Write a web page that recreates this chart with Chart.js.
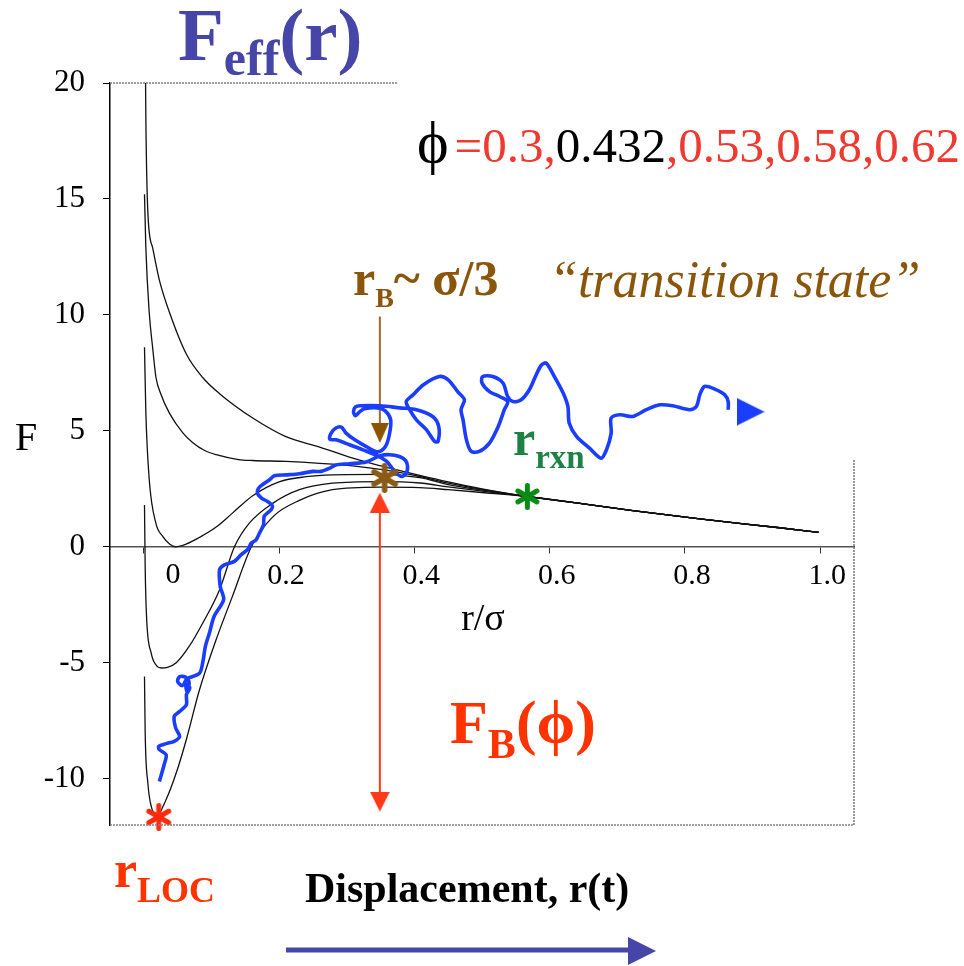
<!DOCTYPE html>
<html>
<head>
<meta charset="utf-8">
<script src="https://cdn.jsdelivr.net/npm/chart.js@4.4.0/dist/chart.umd.min.js"></script>
<style>
  html, body { margin: 0; background: #fff; }
</style>
</head>
<body>
<canvas id="chart" width="964" height="966"></canvas>
<script>
// volume fractions, one curve each (0.432 is the crossover, printed in black)
const phiValues = ['0.3', '0.432', '0.53', '0.58', '0.62'];
const phiHighlight = 1;

const xTicks = [0, 0.2, 0.4, 0.6, 0.8, 1.0];
const yTicks = [-10, -5, 0, 5, 10, 15, 20];

// F_eff(r) for each phi, r in units of sigma
const rPhi030 = [0.001, 0.003, 0.006, 0.013, 0.023, 0.038, 0.063, 0.087, 0.112, 0.161, 0.21, 0.26, 0.309, 0.349, 0.408, 0.45, 0.5];
const fPhi030 = [26, 18.5, 14.4, 12.9, 11.5, 10.1, 8.3, 7.3, 6.6, 5.55, 4.75, 4.3, 3.82, 3.5, 3.08, 2.8, 2.5];

const rPhi0432 = [0.001, 0.003, 0.008, 0.013, 0.018, 0.025, 0.038, 0.058, 0.072, 0.09, 0.107, 0.14, 0.161, 0.21, 0.26, 0.309, 0.358, 0.408, 0.45, 0.5];
const fPhi0432 = [15.2, 12.9, 10.1, 8.6, 7.3, 6.6, 5.75, 4.9, 4.5, 4.15, 3.97, 3.76, 3.72, 3.68, 3.6, 3.49, 3.3, 3.03, 2.74, 2.47];

const rPhi053 = [0.001, 0.003, 0.008, 0.018, 0.028, 0.038, 0.047, 0.063, 0.082, 0.107, 0.131, 0.161, 0.2, 0.24, 0.279, 0.348, 0.408, 0.45, 0.5];
const fPhi053 = [8.6, 5.8, 2.9, 1.0, 0.45, 0.12, 0.0, 0.12, 0.4, 0.85, 1.45, 2.2, 2.8, 3.02, 3.1, 3.12, 2.98, 2.68, 2.44];

const rPhi058 = [0.001, 0.002, 0.004, 0.011, 0.018, 0.026, 0.035, 0.048, 0.067, 0.087, 0.112, 0.134, 0.156, 0.191, 0.23, 0.279, 0.348, 0.408, 0.45, 0.5];
const fPhi058 = [1.8, -0.85, -3.0, -4.6, -5.1, -5.23, -5.2, -5.0, -4.3, -3.3, -1.85, 0.0, 1.02, 1.88, 2.46, 2.74, 2.81, 2.75, 2.58, 2.4];

const rPhi062 = [0.001, 0.002, 0.006, 0.011, 0.019, 0.033, 0.048, 0.063, 0.082, 0.107, 0.131, 0.159, 0.191, 0.23, 0.279, 0.348, 0.408, 0.45, 0.5];
const fPhi062 = [-5.6, -8.0, -10.2, -11.2, -11.6, -10.9, -9.75, -8.3, -6.2, -4.0, -2.14, 0.0, 1.3, 2.0, 2.46, 2.57, 2.55, 2.46, 2.34];

// all curves share the same long-range tail
const tailR = [0.566, 0.65, 0.723, 0.822, 0.94, 0.998];
const tailF = [2.17, 1.85, 1.56, 1.2, 0.82, 0.62];

// one particle trajectory: escapes the well, crosses the barrier and wanders off
const trajR = [0.023,0.030,0.033,0.023,0.022,0.033,0.045,0.053,0.047,0.045,
  0.053,0.063,0.063,0.068,0.062,0.064,0.067,0.062,0.053,0.050,
  0.057,0.064,0.082,0.087,0.091,0.097,0.104,0.118,0.113,0.112,
  0.119,0.134,0.144,0.154,0.159,0.166,0.171,0.177,0.178,0.188,
  0.190,0.183,0.174,0.168,0.171,0.186,0.193,0.211,0.230,0.250,
  0.262,0.275,0.284,0.304,0.329,0.349,0.363,0.378,0.387,0.390,
  0.388,0.381,0.373,0.367,0.359,0.346,0.324,0.304,0.284,0.275,
  0.277,0.284,0.292,0.299,0.312,0.329,0.346,0.357,0.363,0.365,
  0.357,0.346,0.326,0.319,0.313,0.310,0.313,0.320,0.349,0.378,
  0.403,0.427,0.436,0.435,0.430,0.418,0.403,0.393,0.388,0.398,
  0.413,0.437,0.450,0.464,0.474,0.469,0.472,0.477,0.484,0.496,
  0.511,0.524,0.533,0.538,0.526,0.511,0.500,0.501,0.516,0.531,
  0.538,0.546,0.558,0.570,0.580,0.588,0.595,0.607,0.620,0.627,
  0.629,0.640,0.659,0.676,0.684,0.691,0.691,0.704,0.723,0.743,
  0.763,0.782,0.807,0.817,0.822,0.829,0.844,0.859,0.864,0.864];
const trajF = [-10.12,-9.40,-8.97,-8.75,-8.61,-8.49,-8.39,-8.18,-7.81,-7.31,
  -7.10,-6.81,-6.38,-6.09,-5.91,-6.25,-5.86,-5.63,-5.60,-5.81,
  -5.99,-5.69,-5.47,-5.01,-4.30,-3.72,-3.00,-2.28,-1.71,-0.99,
  -0.78,-0.63,-0.34,-0.10,0.16,0.30,0.59,0.95,1.31,1.59,
  1.77,1.95,2.10,2.31,2.57,2.89,3.06,3.10,3.15,3.25,
  3.25,3.39,3.53,3.58,3.66,3.92,3.97,3.89,3.72,3.46,
  3.18,3.03,3.18,3.39,3.68,3.92,4.18,4.40,4.61,4.64,
  4.90,5.12,5.16,4.90,4.61,4.32,4.09,4.31,4.83,5.47,
  5.86,5.99,5.95,5.82,5.65,5.82,6.03,6.08,6.08,5.99,
  5.91,5.62,5.19,4.54,4.54,5.04,5.47,5.91,6.26,6.55,
  6.98,7.34,7.20,6.69,6.34,5.91,5.47,4.61,4.11,4.11,
  4.47,5.19,5.91,6.26,6.48,6.69,7.06,7.34,7.34,7.06,
  6.48,6.26,6.34,6.77,7.41,7.84,7.92,7.34,6.63,6.05,
  5.33,4.75,4.25,3.82,4.18,4.90,5.55,5.69,5.62,5.91,
  6.12,6.08,5.91,6.05,6.55,6.91,6.80,6.55,6.26,5.91];
const trajHead = [0.897, 5.82];

// marked points: localized minimum, barrier (transition state), reaction coordinate
const rLoc = [0.022, -11.65];
const rBarrier = [0.356, 2.97];
const rRxn = [0.567, 2.17];

// arrows at r_B: barrier height F_B and the pointer from the r_B label
const arrowR = 0.349;
const barrierArrowF = [1.5, -10.6];
const barrierHeadsF = [1.9, -10.99];
const pointerArrowF = [9.93, 5.3];
const pointerHeadF = 4.91;

const SERIF = '"Liberation Serif", "Times New Roman", serif';
const PHI = '\u03d5';
const RED = '#ff3300';
const PINK_RED = '#ee3a30';
const BROWN = '#8b560c';
const GREEN = '#1e8246';
const SLATE = '#4646a8';

const pts = (rs, fs) => rs.map((r, i) => ({ x: r, y: fs[i] }));

// six-armed asterisk used as a point style
function asterisk(color, size, width) {
  const c = document.createElement('canvas');
  c.width = c.height = size;
  const g = c.getContext('2d');
  g.strokeStyle = color;
  g.lineWidth = width;
  g.lineCap = 'round';
  const m = size / 2, len = size / 2 - width / 2;
  for (let k = 0; k < 3; k++) {
    const a = Math.PI / 2 + k * Math.PI / 3;
    g.beginPath();
    g.moveTo(m - Math.cos(a) * len, m - Math.sin(a) * len);
    g.lineTo(m + Math.cos(a) * len, m + Math.sin(a) * len);
    g.stroke();
  }
  return c;
}

// filled arrow head pointing down; rotate it with pointRotation
function arrowHead(color, w, h) {
  const c = document.createElement('canvas');
  c.width = w;
  c.height = h;
  const g = c.getContext('2d');
  g.fillStyle = color;
  g.beginPath();
  g.moveTo(0, 0);
  g.lineTo(w, 0);
  g.lineTo(w / 2, h);
  g.closePath();
  g.fill();
  return c;
}

const curveSets = [
  [rPhi030, fPhi030],
  [rPhi0432, fPhi0432],
  [rPhi053, fPhi053],
  [rPhi058, fPhi058],
  [rPhi062, fPhi062],
];

const curveDatasets = curveSets.map(([rs, fs], i) => ({
  label: 'phi = ' + phiValues[i],
  data: pts(rs.concat(tailR), fs.concat(tailF)),
  borderColor: '#111',
  borderWidth: 1.3,
  pointRadius: 0,
  cubicInterpolationMode: 'monotone',
  order: 10,
}));

const marker = (label, xy, style, rotation) => ({
  label,
  data: [{ x: xy[0], y: xy[1] }],
  showLine: false,
  pointRadius: 10,
  pointStyle: style,
  rotation: rotation || 0,
  clip: false,
  order: 0,
});

const datasets = [
  ...curveDatasets,
  {
    label: 'trajectory',
    data: pts(trajR, trajF),
    borderColor: '#1a3dff',
    borderWidth: 3.6,
    pointRadius: 0,
    tension: 0.3,
    order: 2,
  },
  marker('trajectory end', trajHead, arrowHead('#1a3dff', 28, 28), -90),
  {
    label: 'F_B',
    data: pts([arrowR, arrowR], barrierArrowF),
    borderColor: '#ff3a1a',
    borderWidth: 2,
    pointRadius: 0,
    order: 3,
  },
  marker('F_B top', [arrowR, barrierHeadsF[0]], arrowHead('#ff3a1a', 20, 20), 180),
  marker('F_B bottom', [arrowR, barrierHeadsF[1]], arrowHead('#ff3a1a', 20, 20), 0),
  {
    label: 'r_B pointer',
    data: pts([arrowR, arrowR], pointerArrowF),
    borderColor: '#a06a28',
    borderWidth: 2,
    pointRadius: 0,
    order: 3,
  },
  marker('r_B head', [arrowR, pointerHeadF], arrowHead('#8b5400', 18, 20), 0),
  marker('r_LOC', rLoc, asterisk('#ff2a10', 28, 5)),
  marker('r_B', rBarrier, asterisk('#8b5a14', 30, 5.5)),
  marker('r_rxn', rRxn, asterisk('#0a8a16', 27, 5)),
];

// draws a row of differently styled pieces, left to right, on one baseline
function runs(ctx, x, y, parts) {
  for (const p of parts) {
    ctx.font = p.font;
    ctx.fillStyle = p.color;
    ctx.fillText(p.text, x, y + (p.dy || 0));
    x += ctx.measureText(p.text).width + (p.gap || 0);
  }
}

function seg(ctx, x1, y1, x2, y2) {
  ctx.beginPath();
  ctx.moveTo(x1, y1);
  ctx.lineTo(x2, y2);
  ctx.stroke();
}

const annotations = {
  id: 'annotations',
  afterDraw(chart) {
    const { ctx, chartArea: a, scales: { x, y } } = chart;
    ctx.save();

    // the remaining pieces of the plot frame
    ctx.strokeStyle = '#808080';
    ctx.lineWidth = 1.6;
    ctx.setLineDash([2, 1]);
    seg(ctx, a.left, a.bottom, a.right, a.bottom);
    seg(ctx, a.left, a.top, x.getPixelForValue(0.375), a.top);
    seg(ctx, a.right, a.bottom, a.right, y.getPixelForValue(3.75));
    ctx.setLineDash([]);

    ctx.textAlign = 'left';
    ctx.textBaseline = 'alphabetic';

    // axis words
    ctx.font = `30px ${SERIF}`;
    ctx.fillStyle = '#000';
    ctx.textAlign = 'center';
    ctx.fillText('0', x.getPixelForValue(0.043), 583);
    ctx.font = `38px ${SERIF}`;
    ctx.fillText('r/\u03c3', 483, 630);
    ctx.textAlign = 'left';
    ctx.font = `40px ${SERIF}`;
    ctx.fillText('F', 15, 450);

    // title
    runs(ctx, 178, 60, [
      { text: 'F', font: `bold 75px ${SERIF}`, color: SLATE },
      { text: 'eff', font: `bold 50px ${SERIF}`, color: SLATE, dy: 15 },
      { text: '(r)', font: `bold 75px ${SERIF}`, color: SLATE },
    ]);

    // phi list
    const phiParts = [{ text: PHI, font: `60px ${SERIF}`, color: '#000', gap: 6 },
      { text: '=', font: `49px ${SERIF}`, color: PINK_RED }];
    phiValues.forEach((v, i) => {
      if (i > 0) phiParts.push({ text: ',', font: `49px ${SERIF}`, color: PINK_RED });
      phiParts.push({ text: v, font: `49px ${SERIF}`, color: i === phiHighlight ? '#000' : PINK_RED });
    });
    runs(ctx, 417, 162, phiParts);

    // transition state label
    runs(ctx, 353, 295, [
      { text: 'r', font: `bold 50px ${SERIF}`, color: BROWN },
      { text: 'B', font: `bold 28px ${SERIF}`, color: BROWN, dy: 12 },
      { text: '~ \u03c3/3', font: `bold 50px ${SERIF}`, color: BROWN },
    ]);
    ctx.font = `italic 52px ${SERIF}`;
    ctx.fillStyle = BROWN;
    ctx.fillText('\u201ctransition state\u201d', 549, 297);

    runs(ctx, 513, 455, [
      { text: 'r', font: `bold 50px ${SERIF}`, color: GREEN },
      { text: 'rxn', font: `bold 33px ${SERIF}`, color: GREEN, dy: 13 },
    ]);

    runs(ctx, 450, 743, [
      { text: 'F', font: `bold 62px ${SERIF}`, color: RED },
      { text: 'B', font: `bold 42px ${SERIF}`, color: RED, dy: 15 },
      { text: '(' + PHI + ')', font: `bold 62px ${SERIF}`, color: RED },
    ]);

    runs(ctx, 114, 887, [
      { text: 'r', font: `bold 52px ${SERIF}`, color: RED },
      { text: 'LOC', font: `bold 36px ${SERIF}`, color: RED, dy: 15 },
    ]);

    ctx.font = `bold 42px ${SERIF}`;
    ctx.fillStyle = '#000';
    ctx.fillText('Displacement, r(t)', 305, 902);

    // direction arrow under the caption
    ctx.strokeStyle = SLATE;
    ctx.fillStyle = SLATE;
    ctx.lineWidth = 5;
    seg(ctx, 286, 950, 632, 950);
    ctx.beginPath();
    ctx.moveTo(628, 937);
    ctx.lineTo(656, 951);
    ctx.lineTo(628, 965);
    ctx.closePath();
    ctx.fill();

    ctx.restore();
  },
};

new Chart(document.getElementById('chart'), {
  type: 'line',
  data: { datasets },
  options: {
    responsive: false,
    animation: false,
    events: [],
    layout: { padding: { left: 0, top: 83, right: 110, bottom: 141 } },
    plugins: { legend: { display: false }, tooltip: { enabled: false } },
    scales: {
      x: {
        type: 'linear',
        min: -0.05,
        max: 1.05,
        position: { y: 0 },
        afterBuildTicks: (s) => { s.ticks = xTicks.map((v) => ({ value: v })); },
        afterFit: (s) => { s.height = 0; },
        grid: { drawOnChartArea: false, tickLength: 6, color: '#333' },
        border: { color: '#555', width: 1.5, dash: [2, 1] },
        ticks: {
          font: { family: SERIF, size: 30 },
          color: '#000',
          padding: 5,
          labelOffset: 7,
          maxRotation: 0,
          autoSkip: false,
          callback: (v) => (v === 0 ? '' : v.toFixed(1)),
        },
      },
      y: {
        type: 'linear',
        min: -12,
        max: 20,
        position: 'left',
        afterBuildTicks: (s) => { s.ticks = yTicks.map((v) => ({ value: v })); },
        afterFit: (s) => { s.width = 110; },
        grid: { drawOnChartArea: false, tickLength: 7, color: '#000' },
        border: { color: '#000', width: 1.5 },
        ticks: {
          font: { family: SERIF, size: 31 },
          color: '#000',
          padding: 18,
          autoSkip: false,
          callback: (v) => String(v),
        },
      },
    },
  },
  plugins: [annotations],
});
</script>
</body>
</html>
